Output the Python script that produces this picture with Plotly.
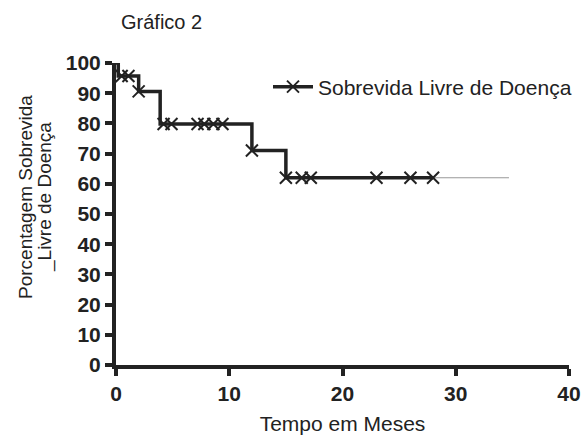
import plotly.graph_objects as go

# Step curve (Kaplan-Meier) - change points
step_t = [0, 0.2, 2.0, 3.9, 12.0, 15.0, 28.0]
step_s = [100, 95.7, 90.6, 79.8, 71.0, 62.0, 62.0]
# censor marks
cens_t = [0.5, 1.1, 2.0, 4.2, 4.9, 7.2, 7.8, 8.6, 9.4, 12.0, 15.0, 16.4, 17.2, 23.0, 26.0, 28.0]
cens_s = [95.7, 95.7, 90.6, 79.8, 79.8, 79.8, 79.8, 79.8, 79.8, 71.0, 62.0, 62.0, 62.0, 62.0, 62.0, 62.0]
# thin continuation line
tail_t = [28.0, 34.7]
tail_s = [62.0, 62.0]

x_ticks = [0, 10, 20, 30, 40]
y_ticks = list(range(0, 101, 10))

INK = "#222222"
marker_style = dict(symbol="x-thin-open", size=12, color=INK, line=dict(color=INK, width=2))

fig = go.Figure()
fig.add_trace(go.Scatter(x=tail_t, y=tail_s, mode="lines",
                         line=dict(color="#999999", width=1.2),
                         showlegend=False, hoverinfo="skip"))
fig.add_trace(go.Scatter(x=step_t, y=step_s, mode="lines", line_shape="hv",
                         line=dict(color=INK, width=3.5),
                         showlegend=False, cliponaxis=False))
fig.add_trace(go.Scatter(x=cens_t, y=cens_s, mode="markers",
                         marker=marker_style,
                         showlegend=False, cliponaxis=False))
# legend entry
fig.add_trace(go.Scatter(x=[None], y=[None], mode="lines+markers",
                         name="Sobrevida Livre de Doença",
                         line=dict(color=INK, width=3.5),
                         marker=marker_style))

W, H = 584, 435
L, R, T, B = 116, 15, 63, 70
PW, PH = W - L - R, H - T - B
fig.update_layout(
    width=W, height=H,
    margin=dict(l=L, r=R, t=T, b=B, autoexpand=False),
    paper_bgcolor="white", plot_bgcolor="white",
    font=dict(family="Liberation Sans, Arial, sans-serif", color=INK),
    title=dict(text="Gráfico 2", x=121/W, xanchor="left", y=1-22/H, yanchor="middle",
               font=dict(size=20, color=INK), automargin=False),
    legend=dict(x=(268-L)/PW, y=(H-B-87)/PH, xanchor="left", yanchor="middle",
                font=dict(size=21, color=INK), bgcolor="rgba(0,0,0,0)",
                itemwidth=40),
    showlegend=True,
)
fig.update_xaxes(range=[0, 40], tickvals=x_ticks, ticktext=[str(v) for v in x_ticks],
                 showgrid=False, zeroline=False, showline=True, linewidth=4,
                 linecolor=INK, ticks="outside", ticklen=7, tickwidth=4,
                 tickcolor=INK, automargin=False,
                 tickfont=dict(size=21, family="Liberation Sans, Arial", color=INK, weight="bold"),
                 title=dict(text="Tempo em Meses", font=dict(size=21, color=INK), standoff=20))
fig.update_yaxes(range=[0, 100], tickvals=y_ticks, ticktext=[str(v) for v in y_ticks],
                 showgrid=False, zeroline=False, showline=True, linewidth=4,
                 linecolor=INK, ticks="outside", ticklen=7, tickwidth=4,
                 tickcolor=INK, automargin=False,
                 tickfont=dict(size=21, family="Liberation Sans, Arial", color=INK, weight="bold"))

# y axis title as two rotated lines (tight line spacing as in the reference)
fig.add_annotation(text="Porcentagem Sobrevida", textangle=-90, showarrow=False,
                   xref="paper", yref="paper", x=(25-L)/PW, y=(H-B-197)/PH,
                   xanchor="center", yanchor="middle", font=dict(size=19, color=INK))
fig.add_annotation(text="_Livre de Doença", textangle=-90, showarrow=False,
                   xref="paper", yref="paper", x=(45-L)/PW, y=(H-B-197)/PH,
                   xanchor="center", yanchor="middle", font=dict(size=19, color=INK))

fig.write_html("out.html")
